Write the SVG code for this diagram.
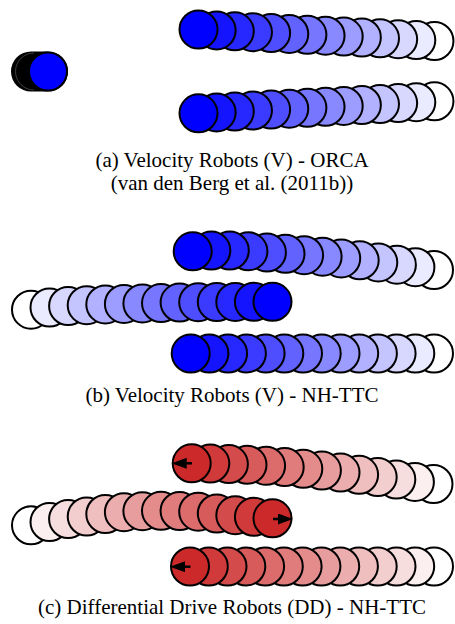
<svg xmlns="http://www.w3.org/2000/svg" width="455" height="624" viewBox="0 0 455 624">
<style>
circle{stroke:#000;stroke-width:2}
.b0{fill:#0000ff}.b1{fill:#1414ff}.b2{fill:#2727ff}.b3{fill:#3b3bff}.b4{fill:#4e4eff}.b5{fill:#6262ff}.b6{fill:#7676ff}
.b7{fill:#8989ff}.b8{fill:#9d9dff}.b9{fill:#b1b1ff}.b10{fill:#c4c4ff}.b11{fill:#d8d8ff}.b12{fill:#ebebff}.b13{fill:#ffffff}
.r0{fill:#cc2a2a}.r1{fill:#d03a3a}.r2{fill:#d44b4b}.r3{fill:#d85b5b}.r4{fill:#dc6c6c}.r5{fill:#e07c7c}.r6{fill:#e48c8c}
.r7{fill:#e79d9d}.r8{fill:#ebadad}.r9{fill:#efbebe}.r10{fill:#f3cece}.r11{fill:#f7dede}.r12{fill:#fbefef}.r13{fill:#ffffff}
.cap{font-family:"Liberation Serif","Times New Roman",serif;font-size:21px;fill:#000;text-anchor:middle}
.hd{stroke:#000;stroke-width:2.5;fill:none;marker-end:url(#ah)}
</style>
<defs>
<marker id="ah" markerUnits="userSpaceOnUse" markerWidth="15" markerHeight="11" refX="5" refY="5.5" orient="auto">
<path d="M0,0 L15,5.5 L0,11 Z" fill="#000"/>
</marker>
</defs>

<g id="robot-a0">
<path d="M31,51.5 H48 A20,20 0 0 1 48,91.5 H31 A20,20 0 0 1 31,51.5 Z" fill="#000"/>
<path d="M34,53 A18.5,18.5 0 0 0 34,90" fill="none" stroke="#666" stroke-width="0.6"/>
<circle class="b0" cx="48" cy="71.5" r="19"/>
</g>

<g id="robot-a1">
<circle class="b13" cx="434.45" cy="41" r="19"/>
<circle class="b12" cx="416.3" cy="40.1" r="19"/>
<circle class="b11" cx="398.15" cy="39.2" r="19"/>
<circle class="b10" cx="380" cy="38.3" r="19"/>
<circle class="b9" cx="361.85" cy="37.5" r="19"/>
<circle class="b8" cx="343.7" cy="36.6" r="19"/>
<circle class="b7" cx="325.55" cy="35.7" r="19"/>
<circle class="b6" cx="307.4" cy="34.8" r="19"/>
<circle class="b5" cx="289.25" cy="33.9" r="19"/>
<circle class="b4" cx="271.1" cy="33" r="19"/>
<circle class="b3" cx="252.95" cy="32.2" r="19"/>
<circle class="b2" cx="234.8" cy="31.3" r="19"/>
<circle class="b1" cx="216.65" cy="30.4" r="19"/>
<circle class="b0" cx="198.5" cy="29.5" r="19"/>
</g>

<g id="robot-a2">
<circle class="b13" cx="434.45" cy="101.3" r="19"/>
<circle class="b12" cx="416.3" cy="102.2" r="19"/>
<circle class="b11" cx="398.15" cy="103.1" r="19"/>
<circle class="b10" cx="380" cy="104.1" r="19"/>
<circle class="b9" cx="361.85" cy="105" r="19"/>
<circle class="b8" cx="343.7" cy="105.9" r="19"/>
<circle class="b7" cx="325.55" cy="106.8" r="19"/>
<circle class="b6" cx="307.4" cy="107.8" r="19"/>
<circle class="b5" cx="289.25" cy="108.7" r="19"/>
<circle class="b4" cx="271.1" cy="109.6" r="19"/>
<circle class="b3" cx="252.95" cy="110.5" r="19"/>
<circle class="b2" cx="234.8" cy="111.5" r="19"/>
<circle class="b1" cx="216.65" cy="112.4" r="19"/>
<circle class="b0" cx="198.5" cy="113.3" r="19"/>
</g>

<g id="caption-a">
<text class="cap" x="232" y="167">(a) Velocity Robots (V) - ORCA</text>
<text class="cap" x="232" y="190">(van den Berg et al. (2011b))</text>
</g>

<g id="robot-b1">
<circle class="b13" cx="434" cy="270" r="19"/>
<circle class="b12" cx="415.4" cy="267.2" r="19"/>
<circle class="b11" cx="396.9" cy="264.7" r="19"/>
<circle class="b10" cx="378.3" cy="262.4" r="19"/>
<circle class="b9" cx="359.7" cy="260.3" r="19"/>
<circle class="b8" cx="341.2" cy="258.4" r="19"/>
<circle class="b7" cx="322.6" cy="256.7" r="19"/>
<circle class="b6" cx="304.1" cy="255.2" r="19"/>
<circle class="b5" cx="285.5" cy="253.8" r="19"/>
<circle class="b4" cx="266.9" cy="252.5" r="19"/>
<circle class="b3" cx="248.4" cy="251.3" r="19"/>
<circle class="b2" cx="229.8" cy="250.5" r="19"/>
<circle class="b1" cx="211.3" cy="250.5" r="19"/>
<circle class="b0" cx="192.7" cy="251.3" r="19"/>
</g>

<g id="robot-b2">
<circle class="b13" cx="31" cy="309.7" r="19"/>
<circle class="b12" cx="49.5" cy="307.5" r="19"/>
<circle class="b11" cx="68.1" cy="306" r="19"/>
<circle class="b10" cx="86.7" cy="305.2" r="19"/>
<circle class="b9" cx="105.3" cy="304.4" r="19"/>
<circle class="b8" cx="123.9" cy="303.9" r="19"/>
<circle class="b7" cx="142.4" cy="303.4" r="19"/>
<circle class="b6" cx="161" cy="303.1" r="19"/>
<circle class="b5" cx="179.6" cy="302.6" r="19"/>
<circle class="b4" cx="198.2" cy="302.2" r="19"/>
<circle class="b3" cx="216.8" cy="302" r="19"/>
<circle class="b2" cx="235.3" cy="301.9" r="19"/>
<circle class="b1" cx="253.9" cy="301.8" r="19"/>
<circle class="b0" cx="272.5" cy="301.8" r="19"/>
</g>

<g id="robot-b3">
<circle class="b13" cx="434" cy="353.5" r="19"/>
<circle class="b12" cx="415.3" cy="353.5" r="19"/>
<circle class="b11" cx="396.6" cy="353.5" r="19"/>
<circle class="b10" cx="377.9" cy="353.5" r="19"/>
<circle class="b9" cx="359.2" cy="353.5" r="19"/>
<circle class="b8" cx="340.5" cy="353.5" r="19"/>
<circle class="b7" cx="321.7" cy="353.5" r="19"/>
<circle class="b6" cx="303" cy="353.5" r="19"/>
<circle class="b5" cx="284.3" cy="353.5" r="19"/>
<circle class="b4" cx="265.6" cy="353.5" r="19"/>
<circle class="b3" cx="246.9" cy="353.5" r="19"/>
<circle class="b2" cx="228.1" cy="353.5" r="19"/>
<circle class="b1" cx="209.4" cy="353.5" r="19"/>
<circle class="b0" cx="190.7" cy="353.5" r="19"/>
</g>

<g id="caption-b">
<text class="cap" x="232" y="402">(b) Velocity Robots (V) - NH-TTC</text>
</g>

<g id="robot-c1">
<circle class="r13" cx="433.5" cy="484" r="19"/>
<circle class="r12" cx="414.9" cy="481.9" r="19"/>
<circle class="r11" cx="396.3" cy="479.5" r="19"/>
<circle class="r10" cx="377.7" cy="477.1" r="19"/>
<circle class="r9" cx="359.1" cy="474.8" r="19"/>
<circle class="r8" cx="340.5" cy="472.6" r="19"/>
<circle class="r7" cx="321.9" cy="470.6" r="19"/>
<circle class="r6" cx="303.3" cy="468.8" r="19"/>
<circle class="r5" cx="284.7" cy="467.1" r="19"/>
<circle class="r4" cx="266.1" cy="465.8" r="19"/>
<circle class="r3" cx="247.5" cy="464.8" r="19"/>
<circle class="r2" cx="228.9" cy="464.1" r="19"/>
<circle class="r1" cx="210.3" cy="463.6" r="19"/>
<circle class="r0" cx="191.7" cy="463.3" r="19"/>
</g>

<g id="robot-c2">
<circle class="r13" cx="31" cy="525.3" r="19"/>
<circle class="r12" cx="49.5" cy="522" r="19"/>
<circle class="r11" cx="68.1" cy="519" r="19"/>
<circle class="r10" cx="86.7" cy="516.5" r="19"/>
<circle class="r9" cx="105.3" cy="514" r="19"/>
<circle class="r8" cx="123.9" cy="512.2" r="19"/>
<circle class="r7" cx="142.4" cy="511.2" r="19"/>
<circle class="r6" cx="161" cy="510.8" r="19"/>
<circle class="r5" cx="179.6" cy="511" r="19"/>
<circle class="r4" cx="198.2" cy="511.7" r="19"/>
<circle class="r3" cx="216.8" cy="513.5" r="19"/>
<circle class="r2" cx="235.3" cy="515.2" r="19"/>
<circle class="r1" cx="253.9" cy="516.8" r="19"/>
<circle class="r0" cx="272.5" cy="518.3" r="19"/>
</g>

<g id="robot-c3">
<circle class="r13" cx="434" cy="566.5" r="19"/>
<circle class="r12" cx="415.2" cy="566.5" r="19"/>
<circle class="r11" cx="396.5" cy="566.5" r="19"/>
<circle class="r10" cx="377.7" cy="566.5" r="19"/>
<circle class="r9" cx="358.9" cy="566.5" r="19"/>
<circle class="r8" cx="340.2" cy="566.5" r="19"/>
<circle class="r7" cx="321.4" cy="566.5" r="19"/>
<circle class="r6" cx="302.6" cy="566.5" r="19"/>
<circle class="r5" cx="283.8" cy="566.5" r="19"/>
<circle class="r4" cx="265.1" cy="566.5" r="19"/>
<circle class="r3" cx="246.3" cy="566.5" r="19"/>
<circle class="r2" cx="227.5" cy="566.5" r="19"/>
<circle class="r1" cx="208.8" cy="566.5" r="19"/>
<circle class="r0" cx="190" cy="566.5" r="19"/>
</g>

<g id="headings">
<line class="hd" x1="192" y1="463.3" x2="181.7" y2="463.3"/>
<line class="hd" x1="273" y1="519" x2="283" y2="519"/>
<line class="hd" x1="190.5" y1="566.7" x2="180" y2="566.7"/>
</g>

<g id="caption-c">
<text class="cap" x="232" y="614">(c) Differential Drive Robots (DD) - NH-TTC</text>
</g>
</svg>
